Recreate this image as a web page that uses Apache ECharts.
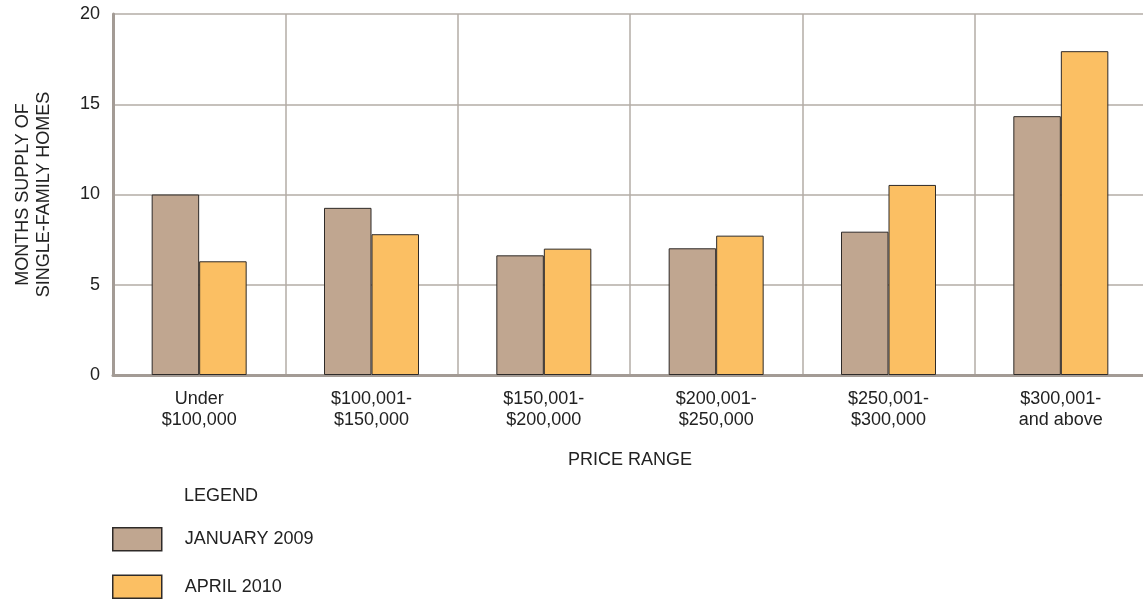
<!DOCTYPE html>
<html>
<head>
<meta charset="utf-8">
<script src="https://cdn.jsdelivr.net/npm/echarts@6/dist/echarts.min.js"></script>
<style>
  html, body { margin: 0; padding: 0; background: #fff; }
  #c1 { width: 1143px; height: 602px; }
</style>
</head>
<body>
<div id="c1"></div>
<script>
// price range categories
var categories = ['Under\n$100,000', '$100,001-\n$150,000', '$150,001-\n$200,000',
                  '$200,001-\n$250,000', '$250,001-\n$300,000', '$300,001-\nand above'];
// months supply
var jan2009 = [10.0, 9.26, 6.63, 7.02, 7.94, 14.34];
var apr2010 = [6.3, 7.8, 7.0, 7.72, 10.53, 17.94];
var yTicks = [0, 5, 10, 15, 20];

var chartDom = document.getElementById('c1');
var myChart = echarts.init(chartDom);
var font = 'Liberation Sans, Arial, sans-serif';

var option = {
    animation: false,
    textStyle: { fontFamily: font },
    grid: {
        left: 113,
        top: 14,
        width: 1034,
        height: 361,
        outerBoundsMode: 'none'
    },
    legend: {
        orient: 'vertical',
        left: 112,
        top: 527,
        padding: 0,
        itemWidth: 49,
        itemHeight: 23,
        itemGap: 23,
        icon: 'rect',
        itemStyle: { borderWidth: 1.5 },
        textStyle: { fontSize: 18, color: '#222', fontFamily: font, padding: [0, 0, 0, 18] },
        data: ['JANUARY 2009', 'APRIL 2010']
    },
    graphic: [{
        type: 'text',
        left: 184,
        top: 487,
        style: { text: 'LEGEND', fontSize: 18, fill: '#222', fontFamily: font }
    }],
    xAxis: {
        type: 'category',
        data: categories,
        name: 'PRICE RANGE',
        nameLocation: 'middle',
        nameGap: 76,
        nameTextStyle: { fontSize: 18, color: '#222', fontFamily: font },
        axisLine: { lineStyle: { color: '#a39b95', width: 3 } },
        axisTick: { show: false },
        axisLabel: { fontSize: 18, color: '#222', lineHeight: 21, margin: 14, fontFamily: font },
        splitLine: { show: true, lineStyle: { color: '#b3aca6', width: 1.5 } }
    },
    yAxis: {
        type: 'value',
        min: yTicks[0],
        max: yTicks[yTicks.length - 1],
        interval: 5,
        name: 'MONTHS SUPPLY OF\nSINGLE-FAMILY HOMES',
        nameLocation: 'middle',
        nameGap: 58,
        nameTextStyle: { fontSize: 18, color: '#222', lineHeight: 21, fontFamily: font },
        axisLine: { show: true, lineStyle: { color: '#a39b95', width: 3 } },
        axisTick: { show: false },
        axisLabel: { fontSize: 18, color: '#222', margin: 13, fontFamily: font },
        splitLine: { show: true, lineStyle: { color: '#b3aca6', width: 1.5 } }
    },
    series: [
        {
            name: 'JANUARY 2009',
            type: 'bar',
            barWidth: 47.5,
            barGap: '0%',
            itemStyle: { color: '#c0a690', borderColor: '#2e2a28', borderWidth: 1 },
            data: jan2009
        },
        {
            name: 'APRIL 2010',
            type: 'bar',
            barWidth: 47.5,
            barGap: '0%',
            itemStyle: { color: '#fbbf63', borderColor: '#2e2a28', borderWidth: 1 },
            data: apr2010
        }
    ]
};
myChart.setOption(option);
</script>
</body>
</html>
